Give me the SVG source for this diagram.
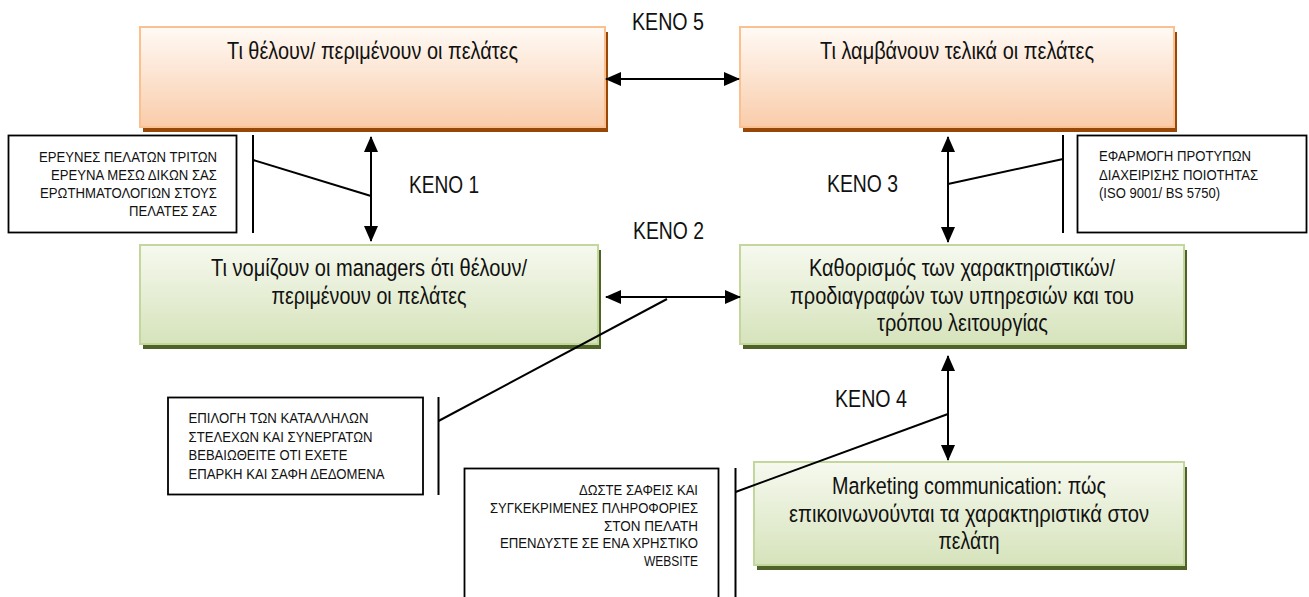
<svg xmlns="http://www.w3.org/2000/svg" width="1309" height="597" viewBox="0 0 1309 597">
  <style>
    text { font-family: "Liberation Sans Narrow", "Arial Narrow", "Liberation Sans", Arial, sans-serif; fill: #111; }
    .big { font-size: 24.5px; text-anchor: middle; }
    .gap { font-size: 24.5px; }
    .small { font-size: 15.5px; }
    .end { text-anchor: end; }
    .obox { fill: url(#og); stroke: #fac08f; stroke-width: 2; }
    .oshadow { fill: #984806; }
    .gbox { fill: url(#gg); stroke: #c3d69b; stroke-width: 2; }
    .gshadow { fill: #4f6228; }
    .note { fill: #fff; stroke: #000; stroke-width: 1.8; }
    .conn { stroke: #000; stroke-width: 2; fill: none; }
    .arrow { marker-start: url(#ah); marker-end: url(#ah); }
  </style>
  <defs>
    <linearGradient id="og" x1="0" y1="0" x2="0" y2="1">
      <stop offset="0" stop-color="#fffaf5"/>
      <stop offset="1" stop-color="#f9ccaa"/>
    </linearGradient>
    <linearGradient id="gg" x1="0" y1="0" x2="0" y2="1">
      <stop offset="0" stop-color="#f6f9ef"/>
      <stop offset="1" stop-color="#d6e3bb"/>
    </linearGradient>
    <marker id="ah" viewBox="0 0 16 14" refX="15" refY="7" markerWidth="16" markerHeight="14" markerUnits="userSpaceOnUse" orient="auto-start-reverse">
      <path d="M0,0 L16,7 L0,14 z" fill="#000"/>
    </marker>
  </defs>

  <rect width="1309" height="597" fill="#fff"/>

  <!-- Nodes -->
  <g id="node-expect">
    <rect class="oshadow" x="143" y="32" width="465" height="100"/>
    <rect class="obox" x="140" y="27" width="465" height="100"/>
    <text class="big" x="372.5" y="59" textLength="291" lengthAdjust="spacingAndGlyphs">Τι θέλουν/ περιμένουν οι πελάτες</text>
  </g>

  <g id="node-receive">
    <rect class="oshadow" x="743" y="32" width="434" height="100"/>
    <rect class="obox" x="740" y="27" width="434" height="100"/>
    <text class="big" x="957" y="59" textLength="274" lengthAdjust="spacingAndGlyphs">Τι λαμβάνουν τελικά οι πελάτες</text>
  </g>

  <g id="node-managers">
    <rect class="gshadow" x="143" y="250" width="458" height="99"/>
    <rect class="gbox" x="140" y="245" width="458" height="99"/>
    <text class="big" x="369" y="276" textLength="316" lengthAdjust="spacingAndGlyphs">Τι νομίζουν οι managers ότι θέλουν/</text>
    <text class="big" x="369" y="303.5" textLength="195" lengthAdjust="spacingAndGlyphs">περιμένουν οι πελάτες</text>
  </g>

  <g id="node-specs">
    <rect class="gshadow" x="743" y="250" width="444" height="99"/>
    <rect class="gbox" x="740" y="245" width="444" height="99"/>
    <text class="big" x="962" y="276" textLength="306" lengthAdjust="spacingAndGlyphs">Καθορισμός των χαρακτηριστικών/</text>
    <text class="big" x="962" y="303.5" textLength="344" lengthAdjust="spacingAndGlyphs">προδιαγραφών των υπηρεσιών και του</text>
    <text class="big" x="962.5" y="331" textLength="171" lengthAdjust="spacingAndGlyphs">τρόπου λειτουργίας</text>
  </g>

  <g id="node-marketing">
    <rect class="gshadow" x="757" y="467" width="430" height="103"/>
    <rect class="gbox" x="754" y="462" width="430" height="103"/>
    <text class="big" x="969" y="494" textLength="274" lengthAdjust="spacingAndGlyphs">Marketing communication: πώς</text>
    <text class="big" x="969" y="521.5" textLength="360" lengthAdjust="spacingAndGlyphs">επικοινωνούνται τα χαρακτηριστικά στον</text>
    <text class="big" x="969" y="549" textLength="61" lengthAdjust="spacingAndGlyphs">πελάτη</text>
  </g>

  <g id="note-research">
    <rect class="note" x="8.5" y="135.5" width="228" height="97"/>
    <text class="small end" x="217" y="161.5" textLength="178" lengthAdjust="spacingAndGlyphs">ΕΡΕΥΝΕΣ ΠΕΛΑΤΩΝ ΤΡΙΤΩΝ</text>
    <text class="small end" x="217" y="179.5" textLength="166" lengthAdjust="spacingAndGlyphs">ΕΡΕΥΝΑ ΜΕΣΩ ΔΙΚΩΝ ΣΑΣ</text>
    <text class="small end" x="217" y="197.5" textLength="177" lengthAdjust="spacingAndGlyphs">ΕΡΩΤΗΜΑΤΟΛΟΓΙΩΝ ΣΤΟΥΣ</text>
    <text class="small end" x="217" y="215.5" textLength="88" lengthAdjust="spacingAndGlyphs">ΠΕΛΑΤΕΣ ΣΑΣ</text>
  </g>

  <g id="note-iso">
    <rect class="note" x="1077.5" y="135.5" width="229" height="97"/>
    <text class="small" x="1099" y="161" textLength="152" lengthAdjust="spacingAndGlyphs">ΕΦΑΡΜΟΓΗ ΠΡΟΤΥΠΩΝ</text>
    <text class="small" x="1099" y="179.5" textLength="159" lengthAdjust="spacingAndGlyphs">ΔΙΑΧΕΙΡΙΣΗΣ ΠΟΙΟΤΗΤΑΣ</text>
    <text class="small" x="1099" y="198" textLength="121" lengthAdjust="spacingAndGlyphs">(ISO 9001/ BS 5750)</text>
  </g>

  <g id="note-staff">
    <rect class="note" x="168" y="397.5" width="255" height="97"/>
    <text class="small" x="188.5" y="423" textLength="180" lengthAdjust="spacingAndGlyphs">ΕΠΙΛΟΓΗ ΤΩΝ ΚΑΤΑΛΛΗΛΩΝ</text>
    <text class="small" x="188.5" y="441.5" textLength="184" lengthAdjust="spacingAndGlyphs">ΣΤΕΛΕΧΩΝ ΚΑΙ ΣΥΝΕΡΓΑΤΩΝ</text>
    <text class="small" x="188.5" y="460" textLength="159" lengthAdjust="spacingAndGlyphs">ΒΕΒΑΙΩΘΕΙΤΕ ΟΤΙ ΕΧΕΤΕ</text>
    <text class="small" x="188.5" y="478.5" textLength="196" lengthAdjust="spacingAndGlyphs">ΕΠΑΡΚΗ ΚΑΙ ΣΑΦΗ ΔΕΔΟΜΕΝΑ</text>
  </g>

  <g id="note-info">
    <rect class="note" x="464.5" y="468.5" width="254" height="140"/>
    <text class="small end" x="698" y="495" textLength="119" lengthAdjust="spacingAndGlyphs">ΔΩΣΤΕ ΣΑΦΕΙΣ ΚΑΙ</text>
    <text class="small end" x="698" y="513" textLength="208" lengthAdjust="spacingAndGlyphs">ΣΥΓΚΕΚΡΙΜΕΝΕΣ ΠΛΗΡΟΦΟΡΙΕΣ</text>
    <text class="small end" x="698" y="530.5" textLength="94" lengthAdjust="spacingAndGlyphs">ΣΤΟΝ ΠΕΛΑΤΗ</text>
    <text class="small end" x="698" y="548" textLength="198" lengthAdjust="spacingAndGlyphs">ΕΠΕΝΔΥΣΤΕ ΣΕ ΕΝΑ ΧΡΗΣΤΙΚΟ</text>
    <text class="small end" x="698" y="566" textLength="54" lengthAdjust="spacingAndGlyphs">WEBSITE</text>
  </g>

  <!-- Connectors -->
  <g id="connectors">
    <line class="conn arrow" x1="606" y1="79" x2="739" y2="79"/>
    <line class="conn arrow" x1="371" y1="137" x2="371" y2="241"/>
    <line class="conn arrow" x1="606" y1="297" x2="740" y2="297"/>
    <line class="conn arrow" x1="948" y1="137" x2="948" y2="242"/>
    <line class="conn arrow" x1="948" y1="356" x2="948" y2="460"/>

    <line class="conn" x1="253" y1="135" x2="253" y2="233"/>
    <line class="conn" x1="253" y1="160" x2="371" y2="196"/>

    <line class="conn" x1="1063" y1="135" x2="1063" y2="233"/>
    <line class="conn" x1="948" y1="184" x2="1063" y2="159"/>

    <line class="conn" x1="438.5" y1="397" x2="438.5" y2="495"/>
    <line class="conn" x1="438.5" y1="421" x2="667" y2="299"/>

    <line class="conn" x1="735.5" y1="468" x2="735.5" y2="600"/>
    <line class="conn" x1="735.5" y1="492" x2="948" y2="414"/>
  </g>

  <!-- Gap labels -->
  <g id="labels">
    <text class="gap" x="632" y="30" textLength="72" lengthAdjust="spacingAndGlyphs">ΚΕΝΟ 5</text>
    <text class="gap" x="409" y="193" textLength="70" lengthAdjust="spacingAndGlyphs">ΚΕΝΟ 1</text>
    <text class="gap" x="633" y="239" textLength="71" lengthAdjust="spacingAndGlyphs">ΚΕΝΟ 2</text>
    <text class="gap" x="827" y="192" textLength="71" lengthAdjust="spacingAndGlyphs">ΚΕΝΟ 3</text>
    <text class="gap" x="835" y="407" textLength="72" lengthAdjust="spacingAndGlyphs">ΚΕΝΟ 4</text>
  </g>
</svg>
